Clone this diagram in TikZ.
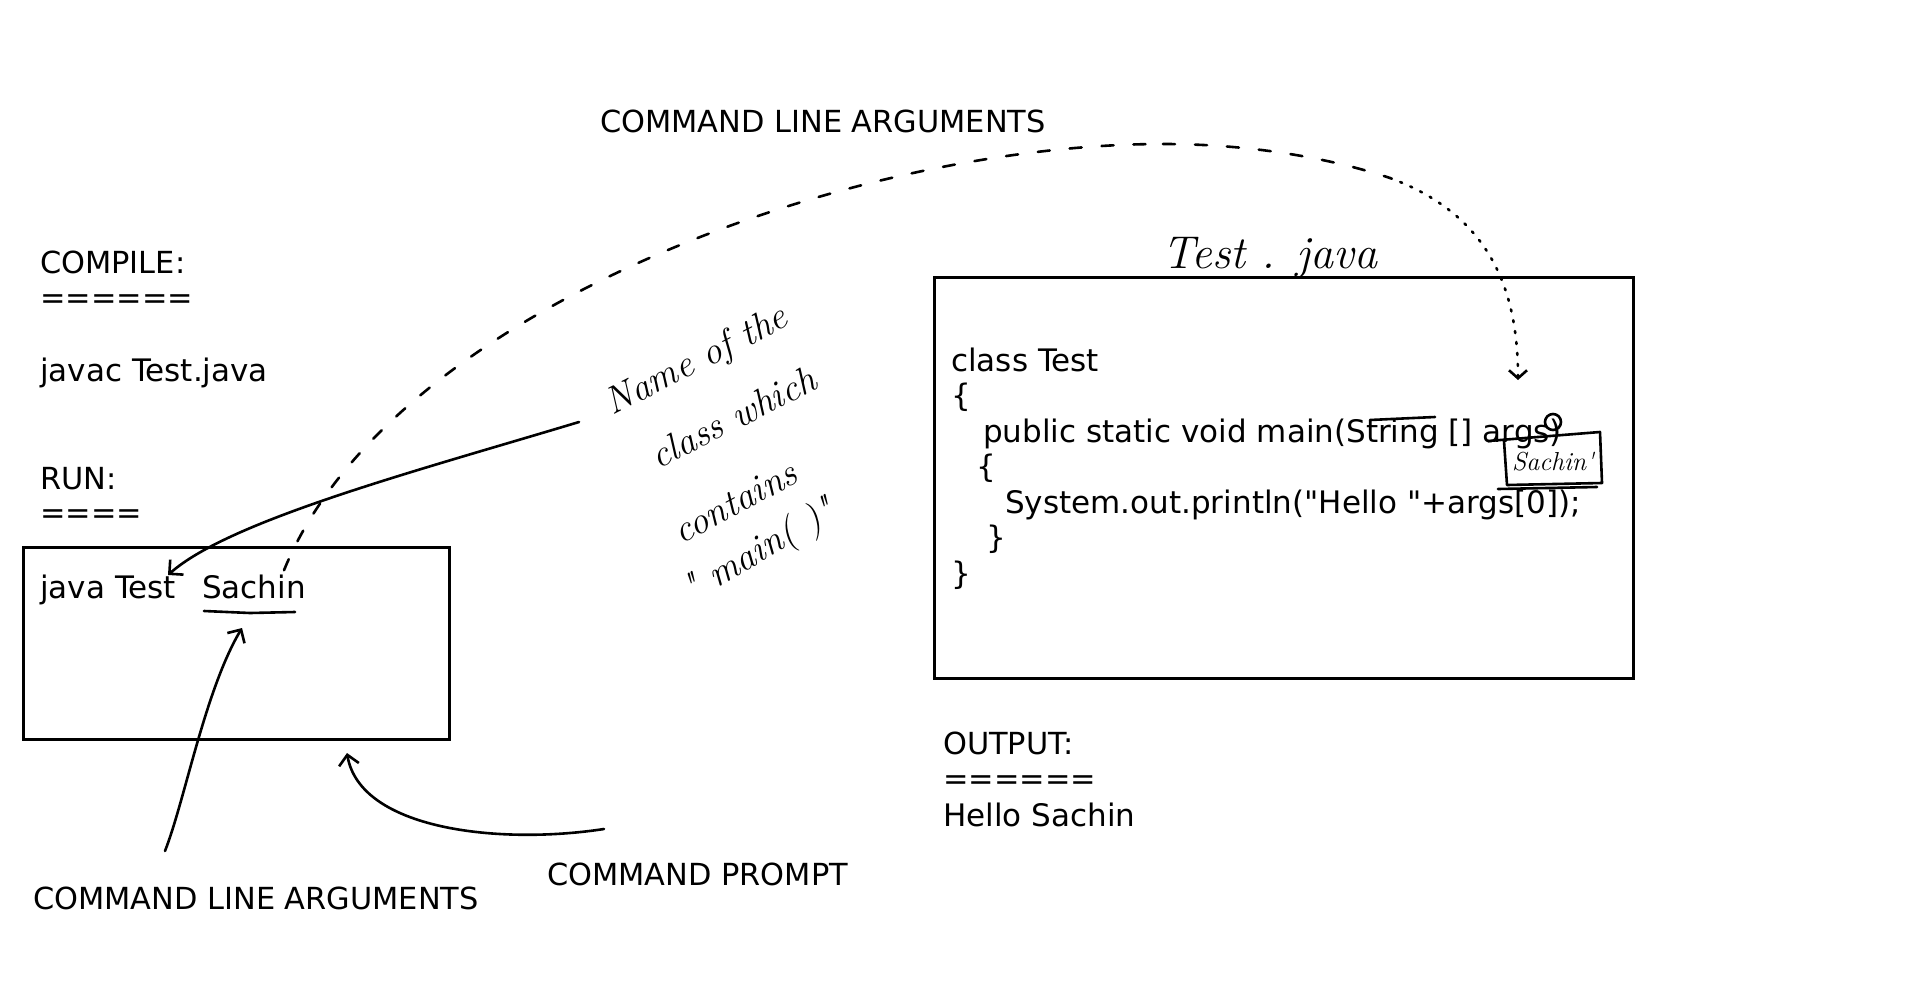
\documentclass[tikz,border=0pt]{standalone}
\usepackage{fontspec}
\setmainfont{DejaVu Sans}[Ligatures=TeXOff]
\newfontfamily\hand{Latin Modern Roman}
\usetikzlibrary{arrows.meta}
\begin{document}
\begin{tikzpicture}[x=1pt,y=-1pt,
  txt/.style={anchor=base west, inner sep=0pt, font=\fontsize{31}{36}\selectfont},
  captxt/.style={txt, font=\fontsize{30.4}{36}\selectfont},
  frame/.style={draw, line width=3pt, inner sep=0pt, anchor=north west},
  pen/.style={line width=2.6pt, line cap=round, line join=round},
  penarrow/.style={pen, -{Straight Barb[length=10pt,width=20pt,line width=2.6pt]}},
  handtxt/.style={font=\hand\itshape\fontsize{38}{44}\selectfont, inner sep=0pt},
  dashpart/.style={pen, dash pattern=on 12pt off 20pt},
  dotpart/.style={pen, dash pattern=on 2pt off 9pt}]
\useasboundingbox (0,0) rectangle (1920,1001);
\fill[white] (0,0) rectangle (1920,1001);

% left column texts
\node[captxt] (compile) at (40,273) {COMPILE:};
\node[captxt] (eq1) at (40,308) {======};
\node[txt] (javac) at (40,381) {javac Test.java};
\node[captxt] (run) at (40,489) {RUN:};
\node[captxt] (eq2) at (40,523) {====};

% run box
\node[frame, minimum width=426pt, minimum height=192pt] (runbox) at (22,546) {};
\node[txt] (javatest) at (40,598) {java Test};
\node[txt] (sachin) at (202,598) {Sachin};
\draw[pen] (204,611) -- (250,613) -- (295,612);

% labels bottom
\node[captxt] (cla) at (33,909) {COMMAND LINE ARGUMENTS};
\node[captxt] (cprompt) at (547,885) {COMMAND PROMPT};
\node[captxt] (clatop) at (600,132) {COMMAND LINE ARGUMENTS};

% code box
\node[frame, minimum width=699pt, minimum height=401pt] (codebox) at (933,276) {};
\node[txt] (c1) at (951,371) {class Test};
\node[txt] (c2) at (951,406) {\{};
\node[txt] (c3) at (983,442) {public static void main(String [] args)};
\node[txt] (c4) at (976,477) {\{};
\node[txt] (c5) at (1005,513) {System.out.println("Hello "+args[0]);};
\node[txt] (c6) at (986,548) {\}};
\node[txt] (c7) at (951,584) {\}};

% output
\node[captxt] (out1) at (943,754) {OUTPUT:};
\node[captxt] (out2) at (943,789) {======};
\node[txt] (out3) at (943,826) {Hello Sachin};

% handwritten title
\node[handtxt, font=\hand\itshape\fontsize{46}{48}\selectfont] (testjava) at (1270,258) {Test . java};

% handwritten note
\node[handtxt, rotate=27] (n1) at (697,362) {Name of the};
\node[handtxt, rotate=27] (n2) at (733,417) {class which};
\node[handtxt, rotate=28] (n3) at (735,502) {contains};
\node[handtxt, rotate=30] (n4) at (760,552) {" main( )"};

% annotation in code
\draw[pen] (1370,420) -- (1435,417);
\draw[pen] (1553,422) circle (8pt);
\draw[pen] (1488,441) -- (1600,432) -- (1602,483) -- (1507,485) -- (1504,441);
\draw[pen] (1498,489) -- (1597,487);
\node[handtxt, font=\hand\itshape\fontsize{26}{28}\selectfont] (sachinhw) at (1553,462) {Sachin'};

% connectors
\coordinate (noteStart) at (579,422);
\coordinate (testTip) at (168,575);
\draw[penarrow] (noteStart) .. controls (420,470) and (230,520) .. (testTip);

\coordinate (claStart) at (165,851);
\coordinate (sachinTip) at (242,628);
\draw[penarrow] (claStart) .. controls (185,800) and (205,690) .. (sachinTip);

\coordinate (cpStart) at (604,829);
\coordinate (boxTip) at (347,753);
\draw[penarrow] (cpStart) .. controls (500,845) and (360,830) .. (boxTip);

\coordinate (dStart) at ([xshift=30pt,yshift=4pt]sachin.north);
\coordinate (dTop) at (1163,144);
\coordinate (dMid) at (1390,178);
\coordinate (argsTip) at (1518,380);
\draw[dashpart] (dStart) .. controls (390,310) and (850,144) .. (dTop);
\draw[dashpart] (dTop) .. controls (1250,144) and (1330,158) .. (dMid);
\draw[dotpart, -{Straight Barb[length=8pt,width=18pt,line width=2.6pt]}] (dMid) .. controls (1490,215) and (1518,290) .. (argsTip);
\end{tikzpicture}
\end{document}
